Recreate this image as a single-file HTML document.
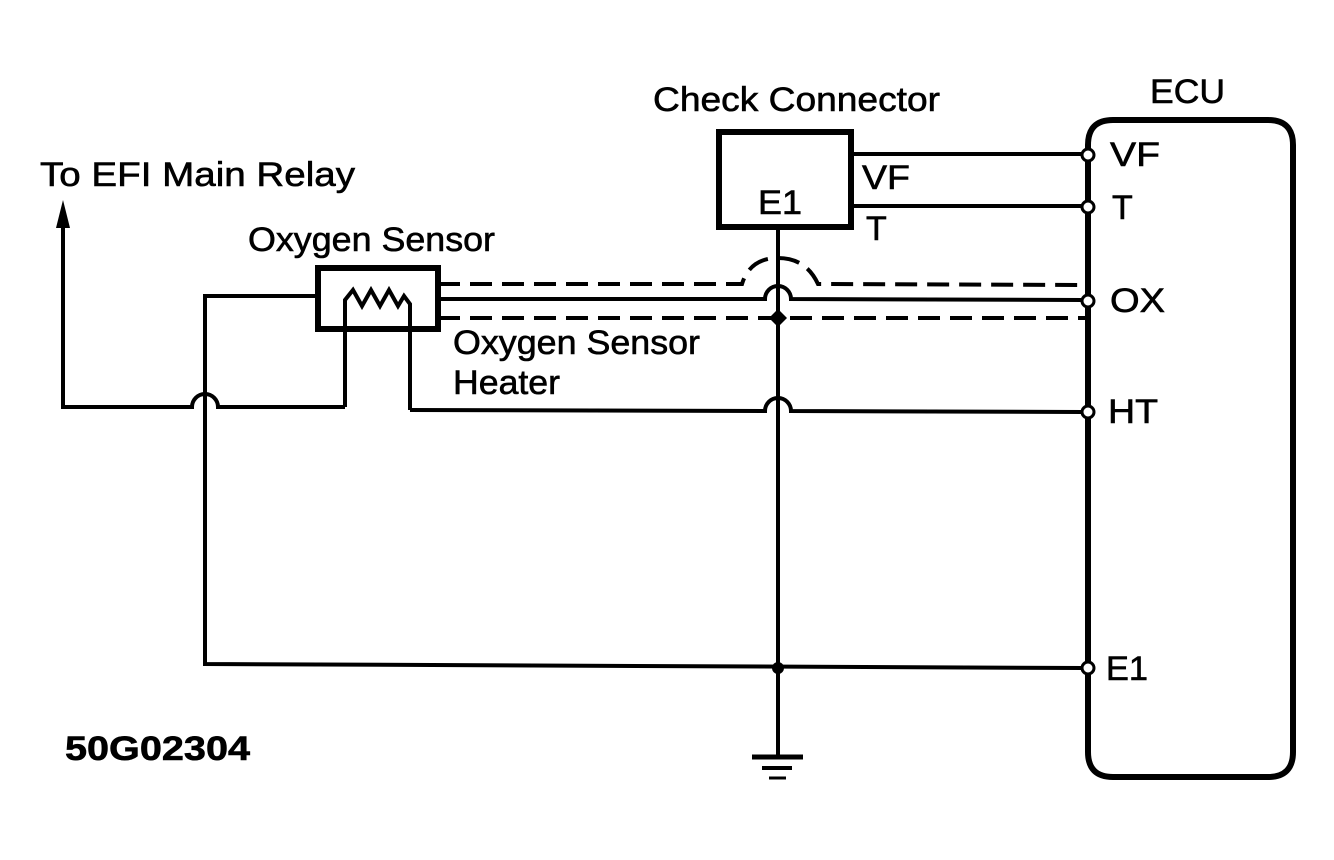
<!DOCTYPE html>
<html><head><style>
html,body{margin:0;padding:0;background:#fff;}
svg{display:block;}
text{font-family:"Liberation Sans",sans-serif;font-size:34px;fill:#000;stroke:#000;stroke-width:0.6;}
</style></head><body>
<svg width="1334" height="860" viewBox="0 0 1334 860" xmlns="http://www.w3.org/2000/svg">
<g fill="none" stroke="#000" stroke-width="4">
<path d="M1088,150 L1088,145 Q1088,120 1113,120 L1268,120 Q1293,120 1293,145 L1293,752 Q1293,777 1268,777 L1113,777 Q1088,777 1088,752 Z" stroke-width="6"/>
<rect x="719" y="132" width="132" height="95" stroke-width="6"/>
<line x1="851" y1="154" x2="1082" y2="154"/>
<line x1="851" y1="206" x2="1082" y2="206"/>
<line x1="778" y1="228" x2="778" y2="757"/>
<line x1="752" y1="757" x2="803" y2="757" stroke-width="5"/>
<line x1="762" y1="768" x2="792" y2="768" stroke-width="4"/>
<line x1="769" y1="778" x2="786" y2="778" stroke-width="3"/>
<rect x="318" y="268" width="120" height="61" stroke-width="6"/>
<polyline points="345,407 345,300 353,290 362,306 371,290 380,306 389,290 398,306 404,296 410,304 410,410"/>
<polyline points="318,296 205,296 205,664 1082,668"/>
<path d="M63,228 L63,407 L192,407 A13,13 0 0 1 218,407 L345,407"/>
<polygon points="63,200 56,228 70,228" fill="#000" stroke="none"/>
<path d="M410,410 L765,411 A13,13 0 0 1 791,411 L1082,412"/>
<path d="M438,299 L765,299 A13,13 0 0 1 791,299 L1082,300"/>
<path d="M438,284 L742,284 Q750,258 778,258 Q806,258 818,284 L1085,285" stroke-dasharray="22,10"/>
<path d="M438,318 L1085,318" stroke-dasharray="22,10"/>
</g>
<polygon points="778,309 787,318 778,327 769,318" fill="#000"/>
<circle cx="778" cy="668" r="6" fill="#000"/>
<g fill="#fff" stroke="#000" stroke-width="3">
<circle cx="1088" cy="155" r="6"/>
<circle cx="1088" cy="207" r="6"/>
<circle cx="1088" cy="301" r="6"/>
<circle cx="1088" cy="412" r="6"/>
<circle cx="1088" cy="668" r="6"/>
</g>
<text x="40" y="186" textLength="315" lengthAdjust="spacingAndGlyphs">To EFI Main Relay</text>
<text x="248" y="251" textLength="247" lengthAdjust="spacingAndGlyphs">Oxygen Sensor</text>
<text x="653" y="111" textLength="287" lengthAdjust="spacingAndGlyphs">Check Connector</text>
<text x="1150" y="103" textLength="75" lengthAdjust="spacingAndGlyphs">ECU</text>
<text x="758" y="214" textLength="44" lengthAdjust="spacingAndGlyphs">E1</text>
<text x="862" y="189" textLength="48" lengthAdjust="spacingAndGlyphs">VF</text>
<text x="866" y="240">T</text>
<text x="453" y="354" textLength="247" lengthAdjust="spacingAndGlyphs">Oxygen Sensor</text>
<text x="453" y="394" textLength="107" lengthAdjust="spacingAndGlyphs">Heater</text>
<text x="1110" y="166" textLength="50" lengthAdjust="spacingAndGlyphs">VF</text>
<text x="1112" y="219">T</text>
<text x="1110" y="312" textLength="55" lengthAdjust="spacingAndGlyphs">OX</text>
<text x="1108" y="423" textLength="50" lengthAdjust="spacingAndGlyphs">HT</text>
<text x="1106" y="680" textLength="42" lengthAdjust="spacingAndGlyphs">E1</text>
<text x="65" y="760" font-weight="bold" textLength="185" lengthAdjust="spacingAndGlyphs">50G02304</text>
</svg>
</body></html>
